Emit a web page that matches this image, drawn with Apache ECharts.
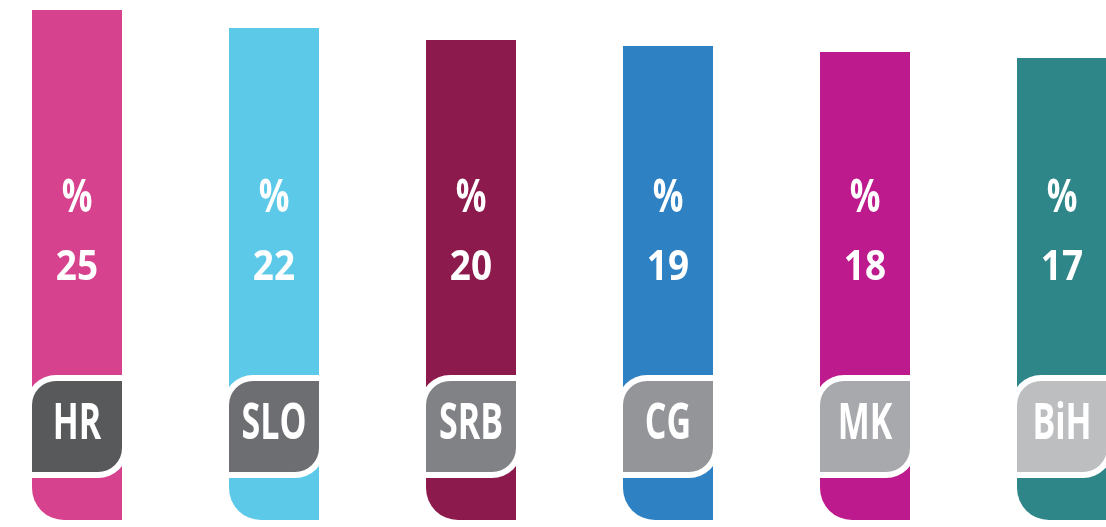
<!DOCTYPE html>
<html>
<head>
<meta charset="utf-8">
<script src="https://cdn.jsdelivr.net/npm/echarts@6/dist/echarts.min.js"></script>
<style>
html,body{margin:0;padding:0;background:#fff;}
#chart{width:1106px;height:527px;}
</style>
</head>
<body>
<div id="chart"></div>
<script>
const categories = ['HR', 'SLO', 'SRB', 'CG', 'MK', 'BiH'];
const values = [25, 22, 20, 19, 18, 17];
const axisMin = -60;
const axisMax = 25;
const barColors = ['#D6428E', '#5DC9E9', '#8D1A4C', '#2E81C3', '#BD1A8D', '#2E8689'];
const tagColors = ['#58595B', '#6D6E71', '#808285', '#939598', '#A7A9AC', '#BCBEC0'];

const FONT = '"Open Sans", "DejaVu Sans", sans-serif';

const chart = echarts.init(document.getElementById('chart'), null, {renderer: 'canvas'});

function label(text, x, y, size, sx) {
  return {
    type: 'text',
    x: x, y: y, scaleX: sx, scaleY: 1,
    style: {
      text: text, x: 0, y: 0, fill: '#ffffff',
      fontSize: size, fontWeight: 'bold', fontFamily: FONT,
      align: 'center', verticalAlign: 'middle'
    }
  };
}

function renderItem(params, api) {
  const i = api.value(0);
  const v = api.value(1);
  const top = api.coord([i, v]);
  const base = api.coord([i, axisMin]);
  const bw = 90;
  const cx = top[0];
  const left = cx - bw / 2;
  const bottom = base[1];
  const tagTop = bottom - 139;
  const tagH = 91;
  const wb = 6;
  return {
    type: 'group',
    children: [
      {
        type: 'rect',
        shape: {x: left, y: top[1], width: bw, height: bottom - top[1], r: [0, 0, 0, 32]},
        style: {fill: barColors[i]}
      },
      {
        type: 'rect',
        shape: {x: left - wb, y: tagTop - wb, width: bw + 2 * wb, height: tagH + 2 * wb, r: [24 + wb, 0, 24 + wb, 0]},
        style: {fill: '#ffffff'}
      },
      {
        type: 'rect',
        shape: {x: left, y: tagTop, width: bw, height: tagH, r: [24, 0, 24, 0]},
        style: {fill: tagColors[i]}
      },
      label('%', cx, bottom - 321, 46, 0.74),
      label(String(values[i]), cx, bottom - 252, 42, 0.88),
      label(categories[i], cx, tagTop + tagH / 2 - 2, 50, 0.68)
    ]
  };
}

chart.setOption({
  animation: false,
  backgroundColor: '#ffffff',
  grid: {left: -21.5, width: 1182, top: 10, bottom: 7, containLabel: false, outerBoundsMode: 'none'},
  xAxis: {type: 'category', data: categories, show: false},
  yAxis: {type: 'value', min: axisMin, max: axisMax, show: false},
  series: [{
    type: 'custom',
    renderItem: renderItem,
    data: values.map((v, i) => [i, v]),
    encode: {x: 0, y: 1}
  }]
});
</script>
</body>
</html>
